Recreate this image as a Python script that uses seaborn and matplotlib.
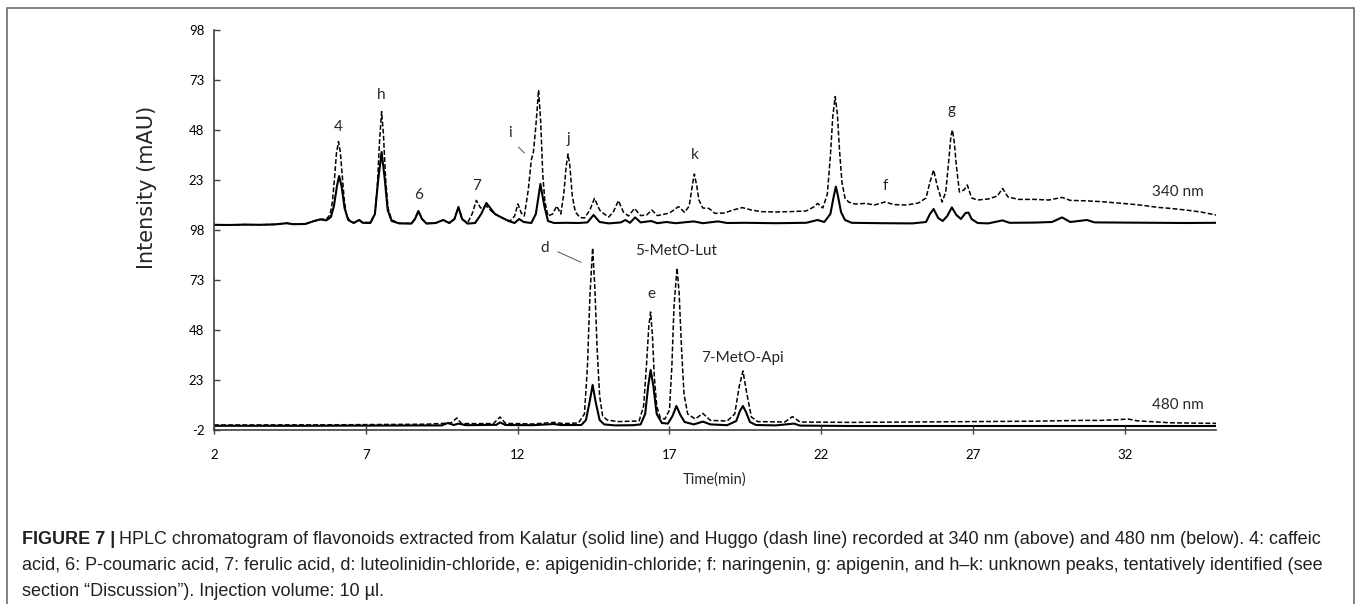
import matplotlib
matplotlib.use('Agg')
import matplotlib.pyplot as plt
import seaborn as sns
import pandas as pd
from matplotlib.patches import Rectangle

# --- chromatogram readings (time in min, intensity in mAU) ---
# 340 nm, Kalatur (solid line)
T340_KALATUR = [2.0, 2.5, 3.0, 3.5, 4.0, 4.4, 4.6, 5.0, 5.3, 5.5, 5.7, 5.85, 5.95, 6.05, 6.12,
                6.2, 6.3, 6.42, 6.6, 6.78, 6.9, 7.15, 7.3, 7.4, 7.52, 7.62, 7.72, 7.85, 8.1,
                8.5, 8.62, 8.73, 8.85, 9.0, 9.3, 9.55, 9.75, 9.92, 10.05, 10.17, 10.35, 10.6,
                10.8, 10.97, 11.1, 11.25, 11.5, 11.7, 11.9, 12.05, 12.2, 12.45, 12.6, 12.75,
                12.88, 13.0, 13.2, 13.6, 14.0, 14.3, 14.5, 14.7, 15.0, 15.4, 15.55, 15.7,
                15.87, 16.05, 16.4, 16.6, 16.9, 17.2, 17.8, 18.1, 18.6, 18.9, 19.5, 20.5,
                21.5, 21.88, 22.1, 22.3, 22.4, 22.48, 22.55, 22.65, 22.78, 23.0, 24.0, 25.0,
                25.45, 25.58, 25.7, 25.85, 26.0, 26.15, 26.3, 26.45, 26.6, 26.75, 26.85, 26.95,
                27.15, 27.5, 27.97, 28.2, 29.0, 29.6, 29.93, 30.2, 30.75, 31.0, 32.0, 33.0,
                34.0, 35.0]
I340_KALATUR = [0.6, 0.5, 0.7, 0.6, 0.8, 1.4, 0.9, 1.0, 2.5, 3.3, 2.8, 4.5, 10, 20, 25,
                20, 9, 3, 1.5, 3.0, 1.6, 1.5, 6, 22, 37, 24, 8, 2.5, 1.3,
                1.2, 3.5, 7.5, 3.5, 1.2, 1.5, 3.0, 1.5, 3.5, 9.5, 3.5, 1.2, 1.5,
                6, 11.5, 9, 6, 4, 2.5, 1.5, 3.5, 2.0, 1.5, 6, 21,
                10, 2.5, 1.5, 1.6, 1.5, 1.8, 5.5, 2.0, 1.3, 1.8, 3.0, 1.6,
                4.3, 1.8, 2.5, 1.4, 2.0, 1.4, 2.3, 1.4, 2.3, 1.5, 1.6, 1.4,
                1.6, 3.0, 2.0, 6, 14, 19.7, 15, 7, 3, 1.6, 1.4, 1.3,
                2.0, 6, 8.5, 4, 2.5, 5, 9.3, 5.5, 3.5, 6.5, 6.7, 3.5,
                1.5, 1.3, 2.8, 1.6, 1.7, 2.0, 4.3, 2.0, 3.0, 1.8, 1.7, 1.6,
                1.5, 1.6]

# 340 nm, Huggo (dash line)
T340_HUGGO = [2.0, 2.5, 3.0, 3.5, 4.0, 4.4, 4.6, 5.0, 5.3, 5.5, 5.7, 5.82, 5.9, 5.97, 6.03,
              6.1, 6.16, 6.22, 6.29, 6.36, 6.45, 6.6, 6.78, 6.9, 7.15, 7.3, 7.38, 7.45, 7.52,
              7.58, 7.65, 7.73, 7.85, 8.1, 8.5, 8.62, 8.73, 8.85, 9.0, 9.3, 9.55, 9.75, 9.92,
              10.05, 10.17, 10.35, 10.5, 10.64, 10.78, 10.97, 11.2, 11.5, 11.75, 11.9, 12.01,
              12.12, 12.22, 12.35, 12.45, 12.52, 12.6, 12.69, 12.76, 12.83, 12.9, 13.0, 13.15,
              13.29, 13.42, 13.52, 13.6, 13.66, 13.72, 13.8, 13.9, 14.05, 14.2, 14.38, 14.53,
              14.7, 14.85, 15.0, 15.15, 15.32, 15.48, 15.65, 15.85, 16.05, 16.25, 16.42, 16.6,
              16.8, 17.0, 17.3, 17.5, 17.65, 17.75, 17.82, 17.9, 17.97, 18.1, 18.3, 18.5,
              18.8, 19.1, 19.4, 19.7, 20.0, 20.5, 21.0, 21.5, 21.75, 21.88, 22.05, 22.2,
              22.3, 22.38, 22.46, 22.53, 22.6, 22.68, 22.78, 22.9, 23.1, 23.47, 23.75, 24.1,
              24.4, 24.8, 25.2, 25.45, 25.58, 25.7, 25.82, 25.98, 26.1, 26.2, 26.27, 26.32,
              26.38, 26.45, 26.55, 26.7, 26.81, 26.95, 27.15, 27.5, 27.8, 27.97, 28.15, 28.5,
              29.0, 29.5, 29.93, 30.2, 30.7, 31.2, 32.0, 32.5, 33.1, 33.5, 34.0, 34.5, 35.0]
I340_HUGGO = [0.6, 0.5, 0.7, 0.6, 0.8, 1.4, 0.9, 1.0, 2.5, 3.3, 3.5, 5.5, 12, 24, 36,
              42.2, 37, 26, 13, 6, 3, 1.6, 3.0, 1.7, 1.8, 6, 20, 42, 57.2,
              46, 24, 9, 3, 1.4, 1.3, 3.5, 7.5, 3.5, 1.3, 1.5, 3.0, 1.5, 3.5,
              9.5, 3.5, 1.5, 6, 12.8, 9, 10, 6.5, 4, 2.5, 5, 11,
              6.5, 5, 18, 33, 37, 50, 68, 52, 25, 12, 5, 6,
              10, 6, 16, 30, 36, 30, 15, 7, 4.3, 4, 8, 13.8,
              8, 6, 4.5, 7, 12.7, 7, 5, 8.8, 5.2, 5.5, 8, 5.2,
              5.8, 6.5, 9.7, 6.8, 10, 20, 26, 20, 13, 9, 8.8, 6.3,
              6.5, 8, 9.2, 8, 7.2, 7.0, 7.2, 7.5, 9.5, 11.3, 9, 16,
              35, 55, 64.7, 56, 38, 22, 14, 12, 11, 11.3, 10.5, 12,
              10.7, 10.5, 11.5, 14, 22, 28, 20, 12, 17, 33, 45, 48,
              42, 30, 17, 18, 20.5, 14, 13, 13.5, 15, 18.8, 14.5, 13.3,
              13.3, 13.0, 14.3, 12.8, 12.6, 12.2, 11.2, 10.5, 9.3, 8.8, 8.0, 7.0, 5.5]

# 480 nm, Kalatur (solid line)
T480_KALATUR = [2.0, 5.0, 7.0, 9.5, 9.7, 9.9, 10.05, 10.3, 11.3, 11.42, 11.6, 12.5, 13.2, 13.4,
                14.1, 14.25, 14.37, 14.47, 14.57, 14.7, 14.85, 15.2, 15.8, 16.05, 16.2, 16.3,
                16.38, 16.47, 16.58, 16.75, 16.95, 17.1, 17.23, 17.36, 17.5, 17.8, 18.1, 18.35,
                18.9, 19.2, 19.32, 19.42, 19.52, 19.65, 19.85, 20.5, 21.1, 21.3, 23.0, 35.0]
I480_KALATUR = [0.1, 0.1, 0.2, 0.3, 1.5, 0.5, 1.2, 0.4, 0.6, 1.8, 0.5, 0.4, 1.0, 0.5,
                0.5, 3, 12, 20.5, 12, 3, 0.8, 0.3, 0.4, 0.8, 6, 20,
                28, 20, 6, 1.5, 1.2, 5, 10, 5.5, 2, 0.8, 2.2, 0.8,
                0.4, 2.5, 7.5, 10, 7, 2, 0.5, 0.3, 1.2, 0.2, 0.0, 0.0]

# 480 nm, Huggo (dash line)
T480_HUGGO = [2.0, 6.0, 9.0, 9.8, 10.0, 10.15, 11.2, 11.42, 11.6, 12.5, 13.2, 13.5, 14.0, 14.2,
              14.3, 14.38, 14.47, 14.54, 14.62, 14.7, 14.8, 14.95, 15.3, 16.0, 16.15, 16.25,
              16.32, 16.38, 16.44, 16.5, 16.58, 16.7, 16.85, 17.0, 17.08, 17.15, 17.25, 17.32,
              17.4, 17.48, 17.6, 17.85, 18.1, 18.35, 18.9, 19.15, 19.3, 19.42, 19.55, 19.7,
              19.9, 20.8, 21.05, 21.3, 23.0, 25.0, 27.0, 29.0, 30.5, 31.2, 31.8, 32.1, 32.4,
              33.5, 35.0]
I480_HUGGO = [0.5, 0.6, 0.9, 1.5, 4.0, 1.2, 1.2, 4.5, 1.3, 1.0, 1.8, 1.2, 1.5, 6,
              30, 65, 89, 70, 38, 15, 5, 3, 2.2, 2.5, 10, 32,
              50, 57, 45, 25, 10, 4, 3.5, 8, 30, 60, 79, 66,
              38, 16, 6, 3.5, 6.3, 2.8, 2.5, 6, 20, 27.5, 16, 4.5,
              2.2, 2.0, 4.7, 2.0, 1.8, 2.0, 2.2, 2.4, 2.8, 2.8, 3.2, 3.5, 2.6,
              1.6, 1.3]

X_TICKS = [2, 7, 12, 17, 22, 27, 32]
Y_TICKS = [-2, 23, 48, 73, 98, 123, 148, 173, 198]
Y_TICK_LABELS = ['-2', '23', '48', '73', '98', '23', '48', '73', '98']

# peak labels: (text, time, intensity) in each trace's own intensity scale
LABELS_340 = [('4', 6.1, 49.5), ('h', 7.52, 65.5), ('6', 8.73, 15.5), ('7', 10.66, 20),
              ('i', 11.75, 46.3), ('j', 13.66, 43.3), ('k', 17.85, 35.6), ('f', 24.1, 19.8),
              ('g', 26.3, 58), ('340 nm', 33.75, 17)]
LABELS_480 = [('d', 12.9, 88.8), ('5-MetO-Lut', 17.23, 87.7), ('e', 16.4, 66),
              ('7-MetO-Api', 19.4, 33.8), ('480 nm', 33.75, 10.5)]

OFFSET_340 = 100  # upper trace is stacked above the 480 nm trace

sns.set_theme(style='white')
plt.rcParams['font.family'] = ['Lato', 'DejaVu Sans']
plt.rcParams['lines.scale_dashes'] = False

W, H = 1358, 604
fig = plt.figure(figsize=(W / 100, H / 100), dpi=100)
ax = fig.add_axes([214 / W, 1 - 430 / H, 1002 / W, 400 / H])

traces = [
    (T480_HUGGO, I480_HUGGO, 0, True),
    (T480_KALATUR, I480_KALATUR, 0, False),
    (T340_HUGGO, I340_HUGGO, OFFSET_340, True),
    (T340_KALATUR, I340_KALATUR, OFFSET_340, False),
]
for t, inten, off, dashed in traces:
    df = pd.DataFrame({'time': t, 'y': [v + off for v in inten]})
    sns.lineplot(data=df, x='time', y='y', ax=ax, color='black', sort=False,
                 estimator=None, lw=1.1 if dashed else 1.5)
    if dashed:
        ax.lines[-1].set_dashes((3.5, 1.6))

ax.set_xlim(2, 35)
ax.set_ylim(-2, 198)
ax.set_xticks(X_TICKS)
ax.set_yticks(Y_TICKS)
ax.set_yticklabels(Y_TICK_LABELS)
ax.set_xlabel('')
ax.set_ylabel('')
sns.despine(ax=ax)
for s in ['left', 'bottom']:
    ax.spines[s].set_color('#404040')
    ax.spines[s].set_linewidth(1.2)
ax.tick_params(axis='y', left=True, direction='in', length=4, width=1, color='#404040',
               pad=7, labelsize=9.5, labelcolor='black')
ax.tick_params(axis='x', bottom=True, direction='inout', length=6, width=1, color='#404040',
               pad=11, labelsize=9.5, labelcolor='black')

for txt, t, v in LABELS_340:
    ax.text(t, v + OFFSET_340, txt, ha='center', va='center', fontsize=11)
for txt, t, v in LABELS_480:
    ax.text(t, v, txt, ha='center', va='center', fontsize=11)
ax.annotate('', xy=(12.29, 35.5 + OFFSET_340), xytext=(11.96, 40.5 + OFFSET_340),
            arrowprops=dict(arrowstyle='-', color='#555555', lw=0.7))
ax.annotate('', xy=(14.17, 81.3), xytext=(13.24, 87.7),
            arrowprops=dict(arrowstyle='-', color='#555555', lw=0.7))

fig.text(715 / W, 1 - 480 / H, 'Time(min)', ha='center', va='center', fontsize=10.5)
fig.text(147 / W, 1 - 187 / H, 'Intensity (mAU)', ha='center', va='center', rotation=90,
         fontsize=15, family='DejaVu Sans')

# frame around the figure
fig.patches.append(Rectangle((7 / W, -0.02), (1354 - 7) / W, 1 - 8 / H + 0.02,
                             transform=fig.transFigure, fill=False,
                             edgecolor='#6b6b6b', lw=1.2))

# caption
cap_family = 'Liberation Sans'
cap_size = 13
cap_color = '#231f20'
renderer = fig.canvas.get_renderer()
bold = fig.text(22 / W, 1 - 540 / H, 'FIGURE 7 |', fontsize=cap_size, weight='bold',
                family=cap_family, color=cap_color, va='center')
bb = bold.get_window_extent(renderer)
fig.text((bb.x1 + 4) / W, 1 - 540 / H,
         'HPLC chromatogram of flavonoids extracted from Kalatur (solid line) and Huggo '
         '(dash line) recorded at 340 nm (above) and 480 nm (below). 4: caffeic',
         fontsize=cap_size, family=cap_family, color=cap_color, va='center')
fig.text(22 / W, 1 - 566 / H,
         'acid, 6: P-coumaric acid, 7: ferulic acid, d: luteolinidin-chloride, '
         'e: apigenidin-chloride; f: naringenin, g: apigenin, and h\u2013k: unknown peaks, '
         'tentatively identified (see',
         fontsize=cap_size, family=cap_family, color=cap_color, va='center')
fig.text(22 / W, 1 - 591 / H,
         'section \u201cDiscussion\u201d). Injection volume: 10 \u00b5l.',
         fontsize=cap_size, family=cap_family, color=cap_color, va='center')

fig.savefig('out.png', dpi=100)
